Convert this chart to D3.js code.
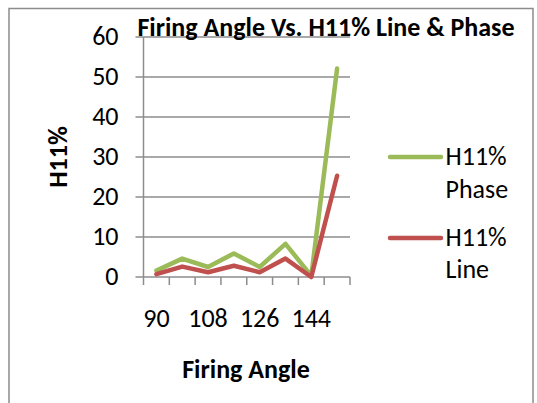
<!DOCTYPE html>
<html><head><meta charset="utf-8">
<script src="https://cdn.jsdelivr.net/npm/d3@7"></script>
<style>body{margin:0;background:#fff}svg{display:block}text{font-family:Carlito,Lato,"Open Sans",sans-serif}</style>
</head><body>
<script>
const categories = [90, 99, 108, 117, 126, 135, 144, 153];
const tickLabels = ["90", "", "108", "", "126", "", "144", ""];
const phase = [1.6, 4.6, 2.5, 5.9, 2.5, 8.3, 0.3, 52.1];
const line = [0.7, 2.6, 1.2, 2.8, 1.2, 4.6, 0, 25.3];
const yTicks = [0, 10, 20, 30, 40, 50, 60];
const seriesNames = [["H11%", "Phase"], ["H11%", "Line"]];
const colors = ["#9BBB59", "#C0504D"];

const W = 537, H = 403;
const svg = d3.select("body").append("svg").attr("width", W).attr("height", H);
svg.append("rect").attr("x", 9).attr("y", 8.5).attr("width", 524).attr("height", 400)
  .attr("fill", "#fff").attr("stroke", "#8c8c8c").attr("stroke-width", 1.5);

const m = {left: 143.5, right: 350, top: 37, bottom: 277};
const x = d3.scaleBand().domain(categories).range([m.left, m.right]);
const y = d3.scaleLinear().domain([0, 60]).range([m.bottom, m.top]);

const g = svg.append("g");
g.selectAll(".grid").data(yTicks).join("line")
  .attr("x1", m.left - 8).attr("x2", m.right)
  .attr("y1", d => y(d)).attr("y2", d => y(d))
  .attr("stroke", "#8c8c8c").attr("stroke-width", 1.5);
g.append("line").attr("x1", m.left).attr("x2", m.left).attr("y1", m.top).attr("y2", m.bottom)
  .attr("stroke", "#8c8c8c").attr("stroke-width", 1.5);
const xt = categories.map(c => x(c)).concat([m.right]);
g.selectAll(".xt").data(xt).join("line")
  .attr("x1", d => d).attr("x2", d => d).attr("y1", m.bottom).attr("y2", m.bottom + 8)
  .attr("stroke", "#8c8c8c").attr("stroke-width", 1.5);
g.selectAll(".yl").data(yTicks).join("text")
  .attr("x", 118.5).attr("y", d => y(d) + 8.2).attr("text-anchor", "end")
  .attr("font-size", 26).attr("fill", "#000").text(d => d);
g.selectAll(".xl").data(categories).join("text")
  .attr("x", d => x(d) + x.bandwidth() / 2).attr("y", 326.5).attr("text-anchor", "middle")
  .attr("font-size", 26).attr("fill", "#000").text((d, i) => tickLabels[i]);

const lg = d3.line().x((d, i) => x(categories[i]) + x.bandwidth() / 2).y(d => y(d));
[phase, line].forEach((s, k) => {
  g.append("path").attr("d", lg(s)).attr("fill", "none").attr("stroke", colors[k])
    .attr("stroke-width", 4.5).attr("stroke-linejoin", "round").attr("stroke-linecap", "round");
});

svg.append("text").attr("x", 326).attr("y", 36).attr("text-anchor", "middle")
  .attr("font-size", 26).attr("font-weight", "bold").text("Firing Angle Vs. H11% Line & Phase");
svg.append("text").attr("transform", "translate(67,157) rotate(-90)").attr("text-anchor", "middle")
  .attr("font-size", 26).attr("font-weight", "bold").text("H11%");
svg.append("text").attr("x", 246).attr("y", 378).attr("text-anchor", "middle")
  .attr("font-size", 26).attr("font-weight", "bold").text("Firing Angle");

const legY = [157, 238];
const legText = [[165, 197.6], [245.7, 277.7]];
seriesNames.forEach((n, k) => {
  svg.append("line").attr("x1", 390).attr("x2", 441).attr("y1", legY[k]).attr("y2", legY[k])
    .attr("stroke", colors[k]).attr("stroke-width", 4.5).attr("stroke-linecap", "round");
  n.forEach((t, j) => {
    svg.append("text").attr("x", 445.5).attr("y", legText[k][j])
      .attr("font-size", 26).attr("fill", "#000").text(t);
  });
});
</script>
</body></html>
